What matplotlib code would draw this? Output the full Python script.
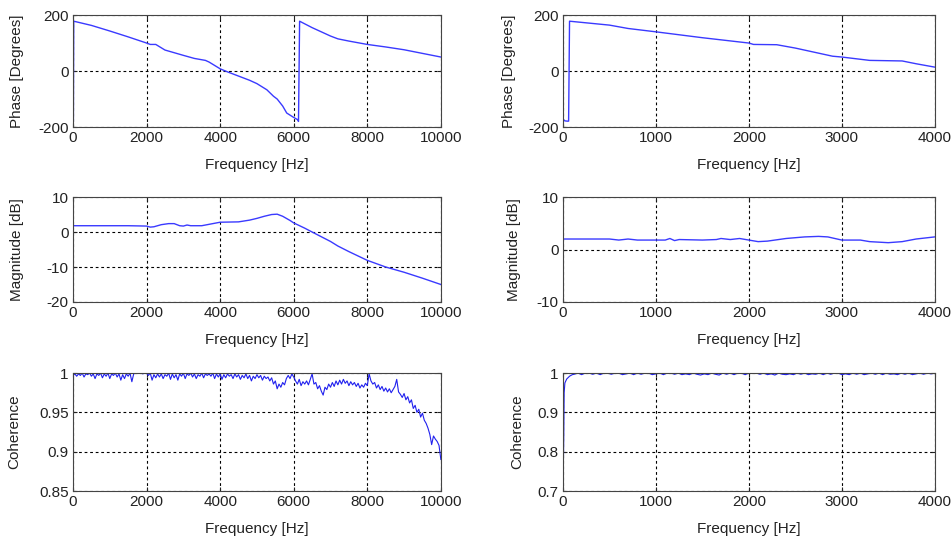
"""
Transfer function estimate: phase, magnitude and coherence for two measurements.
"""
import numpy as np
import matplotlib
matplotlib.use("Agg")
import matplotlib.pyplot as plt
from matplotlib.ticker import FormatStrFormatter

plt.rcParams['font.family'] = ['Liberation Sans', 'DejaVu Sans']

# ---- left column (0 - 10 kHz) ----
phase_l_f = [0, 10, 20, 500, 1000, 1500, 2000, 2100, 2250, 2500, 3000, 3300, 3600,
             3700, 4000, 4200, 4500, 4800, 5000, 5270, 5450, 5550, 5700, 5810, 5990,
             6110, 6130, 6160, 6500, 7000, 7200, 7500, 8000, 8500, 9000, 9500, 10000]
phase_l = [-190, -180, 178, 163, 143, 122, 100, 95, 95, 75, 56, 45, 38,
           32, 8, -3, -18, -33, -45, -67, -90, -100, -125, -150, -165,
           -174, -180, 178, 155, 125, 115, 107, 95, 86, 76, 63, 50]

mag_l_f = [0, 500, 1000, 1500, 2000, 2100, 2200, 2400, 2600, 2750, 2900, 3000, 3100, 3200,
           3500, 3700, 4000, 4500, 4800, 5000, 5200, 5400, 5550, 5700, 5900, 6000, 6300,
           6500, 7000, 7200, 7500, 8000, 8500, 9000, 9500, 10000]
mag_l = [1.8, 1.8, 1.8, 1.8, 1.7, 1.4, 1.5, 2.1, 2.4, 2.4, 1.8, 1.7, 2.0, 1.8,
         1.8, 2.2, 2.8, 2.9, 3.4, 3.9, 4.5, 5.0, 5.1, 4.5, 3.3, 2.6, 1.1,
         0.0, -2.7, -4.0, -5.6, -8.1, -10.0, -11.5, -13.2, -15.0]

# coherence, one value every 50 Hz from 0 to 10000 Hz
coh_l = [0.997, 0.999, 0.996, 0.999, 0.997, 1.0, 0.995, 0.999, 0.998, 1.0,
         0.996, 0.999, 0.993, 0.999, 0.997, 1.0, 0.994, 0.999, 0.996, 1.0,
         0.993, 0.999, 0.997, 1.0, 0.995, 0.999, 0.991, 0.998, 0.993, 0.999,
         0.996, 1.0, 0.989, 0.999, 1.0, 1.0, 1.0, 1.0, 0.999, 1.0,
         1.0, 0.997, 1.0, 0.991, 0.998, 0.994, 0.999, 0.995, 0.999, 0.993,
         0.998, 0.996, 1.0, 0.992, 0.999, 0.994, 0.998, 0.991, 0.999, 0.996,
         1.0, 0.993, 0.999, 0.997, 1.0, 0.995, 0.999, 0.993, 0.998, 0.996,
         1.0, 0.994, 0.999, 0.997, 0.999, 0.996, 1.0, 0.993, 0.999, 0.995,
         0.999, 0.992, 0.998, 0.994, 0.999, 0.996, 0.998, 0.993, 0.999, 0.995,
         0.998, 0.992, 0.997, 0.994, 0.999, 0.993, 0.997, 0.990, 0.996, 0.993,
         0.998, 0.994, 0.997, 0.991, 0.996, 0.993, 0.995, 0.990, 0.994, 0.986,
         0.990, 0.980, 0.986, 0.982, 0.988, 0.985, 0.993, 0.997, 0.993, 0.999,
         0.995, 0.990, 0.986, 0.992, 0.984, 0.989, 0.986, 0.990, 0.985, 0.992,
         0.999, 0.986, 0.988, 0.980, 0.984, 0.977, 0.972, 0.982, 0.979, 0.986,
         0.982, 0.988, 0.983, 0.990, 0.985, 0.991, 0.986, 0.992, 0.987, 0.990,
         0.984, 0.989, 0.985, 0.988, 0.983, 0.987, 0.981, 0.985, 0.982, 0.987,
         0.984, 0.999, 0.990, 0.986, 0.988, 0.981, 0.985, 0.979, 0.983, 0.977,
         0.981, 0.976, 0.980, 0.975, 0.979, 0.983, 0.992, 0.976, 0.973, 0.969,
         0.974, 0.966, 0.970, 0.962, 0.966, 0.955, 0.959, 0.950, 0.954, 0.944,
         0.949, 0.940, 0.936, 0.930, 0.922, 0.909, 0.920, 0.916, 0.913, 0.908,
         0.890]

# ---- right column (0 - 4 kHz) ----
phase_r_f = [0, 20, 45, 60, 70, 500, 700, 1000, 1500, 2000, 2050, 2300, 2500, 2900,
             3000, 3300, 3650, 3800, 4000]
phase_r = [-172, -178, -179, -179, 178, 164, 152, 140, 119, 100, 95, 94, 82, 53,
           50, 38, 36, 26, 14]

mag_r_f = [0, 300, 500, 600, 700, 800, 1000, 1100, 1150, 1200, 1250, 1500, 1650, 1700,
           1800, 1900, 2000, 2100, 2200, 2400, 2600, 2750, 2850, 3000, 3200, 3300,
           3500, 3650, 3800, 4000]
mag_r = [2.0, 2.0, 2.0, 1.8, 2.0, 1.8, 1.8, 1.8, 2.1, 1.7, 1.9, 1.8, 1.9, 2.1,
         1.9, 2.1, 1.8, 1.5, 1.6, 2.1, 2.4, 2.5, 2.4, 1.8, 1.8, 1.5,
         1.3, 1.5, 2.0, 2.4]

coh_r_start_f = [0, 8, 12, 20, 40, 70, 100]
coh_r_start = [0.70, 0.84, 0.95, 0.975, 0.985, 0.992, 0.996]
# then one value every 40 Hz from 120 to 4000 Hz
coh_r = [0.997, 1.0, 0.996, 1.0, 1.0, 0.997, 1.0, 0.996, 1.0, 1.0,
         0.997, 1.0, 1.0, 0.996, 0.998, 1.0, 0.996, 1.0, 0.997, 1.0,
         1.0, 0.996, 0.998, 1.0, 0.996, 1.0, 1.0, 0.997, 1.0, 0.996,
         0.998, 0.996, 1.0, 0.997, 0.995, 0.998, 0.996, 1.0, 0.997, 0.995,
         1.0, 0.997, 1.0, 0.996, 1.0, 1.0, 0.996, 1.0, 1.0, 1.0,
         0.997, 1.0, 0.996, 0.998, 0.995, 1.0, 0.997, 0.996, 0.998, 0.996,
         1.0, 0.997, 1.0, 0.996, 0.998, 0.997, 1.0, 0.996, 1.0, 0.997,
         1.0, 1.0, 0.996, 0.998, 0.996, 1.0, 0.997, 1.0, 0.996, 0.998,
         1.0, 0.997, 1.0, 0.996, 1.0, 0.997, 0.998, 0.996, 1.0, 0.997,
         1.0, 0.996, 0.998, 1.0, 0.997, 1.0, 0.998, 1.0]

LINE = '#3a3aff'


def style_axes(ax, xlim, xticks, ylim, yticks, ylabel, ylabel_x):
    ax.set_xlim(*xlim)
    ax.set_ylim(*ylim)
    ax.set_xticks(xticks)
    ax.set_yticks(yticks)
    ax.yaxis.set_major_formatter(FormatStrFormatter('%g'))
    ax.grid(True, color='black', linestyle=(0, (2.5, 2.5)), linewidth=0.8)
    ax.tick_params(direction='in', length=3, top=True, right=True,
                   labelsize=11, colors='#222222', pad=3)
    for sp in ax.spines.values():
        sp.set_color('#444444')
        sp.set_linewidth(0.8)
    ax.set_xlabel('Frequency [Hz]', fontsize=11, color='#222222', labelpad=9)
    ax.set_ylabel(ylabel, fontsize=11, color='#222222')
    ax.yaxis.set_label_coords(ylabel_x, 0.5)


fig = plt.figure(figsize=(9.53, 5.41), dpi=100)

# axes rectangles [left, bottom, width, height] in figure fractions
left_x, left_w = 0.0766, 0.386
right_x, right_w = 0.5908, 0.390
rows = [(0.7652, 0.207), (0.4418, 0.194), (0.0924, 0.218)]

# left column
ax = fig.add_axes([left_x, rows[0][0], left_w, rows[0][1]])
ax.plot(phase_l_f, phase_l, color=LINE, linewidth=1.0)
style_axes(ax, (0, 10000), [0, 2000, 4000, 6000, 8000, 10000], (-200, 200),
           [-200, 0, 200], 'Phase [Degrees]', -0.133)

ax = fig.add_axes([left_x, rows[1][0], left_w, rows[1][1]])
ax.plot(mag_l_f, mag_l, color=LINE, linewidth=1.0)
style_axes(ax, (0, 10000), [0, 2000, 4000, 6000, 8000, 10000], (-20, 10),
           [-20, -10, 0, 10], 'Magnitude [dB]', -0.133)

ax = fig.add_axes([left_x, rows[2][0], left_w, rows[2][1]])
coh_l_f = np.linspace(0, 10000, len(coh_l))
ax.plot(coh_l_f, coh_l, color='#2020ee', linewidth=0.8)
style_axes(ax, (0, 10000), [0, 2000, 4000, 6000, 8000, 10000], (0.85, 1.0),
           [0.85, 0.9, 0.95, 1.0], 'Coherence', -0.141)

# right column
ax = fig.add_axes([right_x, rows[0][0], right_w, rows[0][1]])
ax.plot(phase_r_f, phase_r, color=LINE, linewidth=1.0)
style_axes(ax, (0, 4000), [0, 1000, 2000, 3000, 4000], (-200, 200),
           [-200, 0, 200], 'Phase [Degrees]', -0.126)

ax = fig.add_axes([right_x, rows[1][0], right_w, rows[1][1]])
ax.plot(mag_r_f, mag_r, color=LINE, linewidth=1.0)
style_axes(ax, (0, 4000), [0, 1000, 2000, 3000, 4000], (-10, 10),
           [-10, 0, 10], 'Magnitude [dB]', -0.113)

ax = fig.add_axes([right_x, rows[2][0], right_w, rows[2][1]])
coh_r_f = list(coh_r_start_f) + list(np.linspace(120, 4000, len(coh_r)))
ax.plot(coh_r_f, list(coh_r_start) + coh_r, color='#2020ee', linewidth=0.8)
style_axes(ax, (0, 4000), [0, 1000, 2000, 3000, 4000], (0.7, 1.0),
           [0.7, 0.8, 0.9, 1.0], 'Coherence', -0.105)

fig.savefig('out.png', dpi=100)
plt.close(fig)
